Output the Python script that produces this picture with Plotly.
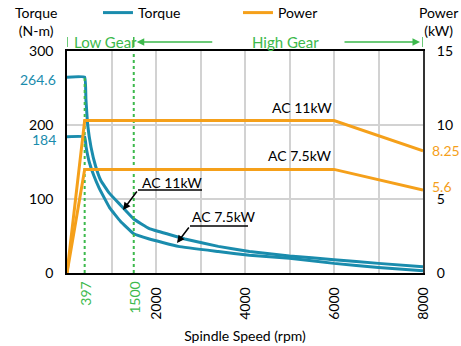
import plotly.graph_objects as go

# ---------------- data ----------------
rpm_11 = [0, 397, 425, 465, 540, 640, 760, 950, 1200, 1500, 1850, 2300, 2650, 3400, 4100, 5000, 6000, 7000, 8000]
torque_11 = [264.6, 264.6, 235, 200, 170, 145, 125, 108, 92, 73, 60, 52, 46, 36, 29, 23, 18, 13, 8.5]

rpm_75 = [0, 397, 430, 500, 600, 720, 960, 1200, 1500, 1850, 2500, 3400, 4100, 5000, 6000, 7000, 8000]
torque_75 = [184, 184, 170, 150, 132, 115, 88, 70, 53, 46, 36, 29, 24, 20, 13, 7.5, 3]

rpm_pw = [0, 397, 6000, 8000]
power_11 = [0, 10.3, 10.3, 8.25]
power_75 = [0, 7.0, 7.0, 5.6]

gear_change = [397, 1500]
x_ticks = [1000, 2000, 3000, 4000, 5000, 6000, 7000, 8000]
x_tick_text = ["", "2000", "", "4000", "", "6000", "", "8000"]
torque_marks = [264.6, 184]
power_marks = [8.25, 5.6]

TEAL = "#1a8cad"
ORANGE = "#f5a01a"
GREEN = "#3db94c"
FONT = "Lato"

fig = go.Figure()

fig.add_trace(go.Scatter(x=rpm_11, y=torque_11, mode="lines", name="Torque",
                         line=dict(color=TEAL, width=3, shape="spline", smoothing=0.3),
                         showlegend=True))
fig.add_trace(go.Scatter(x=rpm_75, y=torque_75, mode="lines", name="Torque",
                         line=dict(color=TEAL, width=3, shape="spline", smoothing=0.3),
                         showlegend=False))
fig.add_trace(go.Scatter(x=rpm_pw, y=power_11, mode="lines", name="Power", yaxis="y2",
                         line=dict(color=ORANGE, width=3), showlegend=True))
fig.add_trace(go.Scatter(x=rpm_pw, y=power_75, mode="lines", name="Power", yaxis="y2",
                         line=dict(color=ORANGE, width=3), showlegend=False))

# gear change dotted lines
fig.add_trace(go.Scatter(x=[gear_change[0], gear_change[0]], y=[0, torque_marks[0]], mode="lines",
                         line=dict(color=GREEN, width=2, dash="dot"), showlegend=False))
fig.add_trace(go.Scatter(x=[gear_change[1], gear_change[1]], y=[0, 300], mode="lines",
                         line=dict(color=GREEN, width=2, dash="dot"), showlegend=False))

annotations = []
shapes = []


def px_to_paper_x(px):
    return (px - 67) / 356.0


def px_to_paper_y(py):
    return (273 - py) / 222.0


def rx(px):
    return (px - 67) / 0.0445


def ry(py):
    return (273 - py) / 0.74


# x labels for gear change speeds
for v in gear_change:
    annotations.append(dict(x=v, y=0, xref="x", yref="y", yshift=-7, text=str(v),
                            textangle=-90, showarrow=False, xanchor="center", yanchor="top",
                            font=dict(family=FONT, size=14, color=GREEN)))

# torque marks on left
for v, sh in zip(torque_marks, [-2, -3]):
    annotations.append(dict(x=0, y=v, xref="paper", yref="y", xshift=-9, yshift=sh, text=str(v),
                            showarrow=False, xanchor="right", yanchor="middle",
                            font=dict(family=FONT, size=14, color=TEAL)))
# power marks on right
for v, sh in zip(power_marks, [0, 4]):
    annotations.append(dict(x=1, y=v, xref="paper", yref="y2", xshift=7, yshift=sh, text=str(v),
                            showarrow=False, xanchor="left", yanchor="middle",
                            font=dict(family=FONT, size=14, color=ORANGE)))

# axis titles
annotations.append(dict(x=px_to_paper_x(36), y=px_to_paper_y(21), xref="paper", yref="paper",
                        text="Torque<br>(N-m)", showarrow=False, xanchor="center", yanchor="middle",
                        font=dict(family=FONT, size=14, color="black")))
annotations.append(dict(x=px_to_paper_x(438), y=px_to_paper_y(21), xref="paper", yref="paper",
                        text="Power<br>(kW)", showarrow=False, xanchor="center", yanchor="middle",
                        font=dict(family=FONT, size=14, color="black")))

# gear range bars
ygear = px_to_paper_y(42)
for xv in [0, 1500, 8000]:
    shapes.append(dict(type="line", xref="x", yref="paper", x0=xv, x1=xv,
                       y0=ygear - 0.022, y1=ygear + 0.022, line=dict(color=GREEN, width=1.5)))
annotations.append(dict(x=px_to_paper_x(105), y=ygear, xref="paper", yref="paper", text="Low Gear",
                        showarrow=False, xanchor="center", yanchor="middle",
                        font=dict(family=FONT, size=15, color=GREEN)))
annotations.append(dict(x=px_to_paper_x(285), y=ygear, xref="paper", yref="paper", text="High Gear",
                        showarrow=False, xanchor="center", yanchor="middle",
                        font=dict(family=FONT, size=15, color=GREEN)))
# arrows
annotations.append(dict(x=1500, y=ygear, xref="x", yref="paper", text="", showarrow=True,
                        ax=80, ay=0, arrowhead=2, arrowsize=1, arrowwidth=1.5, arrowcolor=GREEN,
                        standoff=3))
annotations.append(dict(x=8000, y=ygear, xref="x", yref="paper", text="", showarrow=True,
                        ax=-80, ay=0, arrowhead=2, arrowsize=1, arrowwidth=1.5, arrowcolor=GREEN,
                        standoff=3))

# callouts
annotations.append(dict(x=rx(172), y=ry(182), xref="x", yref="y", text="AC 11kW",
                        showarrow=False, font=dict(family=FONT, size=14, color="black")))
shapes.append(dict(type="line", xref="x", yref="y", x0=rx(138), x1=rx(202), y0=ry(190), y1=ry(190),
                   line=dict(color="black", width=1.5)))
annotations.append(dict(x=rx(123), y=ry(210), xref="x", yref="y", text="", showarrow=True,
                        ax=15, ay=-20, arrowhead=2, arrowsize=1, arrowwidth=1.5, arrowcolor="black"))

annotations.append(dict(x=rx(224), y=ry(216), xref="x", yref="y", text="AC 7.5kW",
                        showarrow=False, font=dict(family=FONT, size=14, color="black")))
shapes.append(dict(type="line", xref="x", yref="y", x0=rx(190), x1=rx(248), y0=ry(226), y1=ry(226),
                   line=dict(color="black", width=1.5)))
annotations.append(dict(x=rx(177), y=ry(243), xref="x", yref="y", text="", showarrow=True,
                        ax=13, ay=-17, arrowhead=2, arrowsize=1, arrowwidth=1.5, arrowcolor="black"))

annotations.append(dict(x=6000, y=10.3, xref="x", yref="y2", text="AC 11kW", yshift=3,
                        showarrow=False, xanchor="right", yanchor="bottom",
                        font=dict(family=FONT, size=14, color="black")))
annotations.append(dict(x=6000, y=7.0, xref="x", yref="y2", text="AC 7.5kW", yshift=3,
                        showarrow=False, xanchor="right", yanchor="bottom",
                        font=dict(family=FONT, size=14, color="black")))

fig.update_layout(
    width=461, height=346,
    margin=dict(l=67, r=38, t=51, b=73, autoexpand=False),
    paper_bgcolor="white", plot_bgcolor="white",
    font=dict(family=FONT, size=14, color="black"),
    xaxis=dict(range=[0, 8000], tickvals=x_ticks, ticktext=x_tick_text, tickangle=-90,
               showgrid=True, gridcolor="#d2d2d2", gridwidth=1.5,
               ticks="outside", ticklen=7, tickcolor="rgba(0,0,0,0)",
               showline=True, linecolor="black", linewidth=1.5, mirror=True,
               zeroline=False, automargin=False,
               title=dict(text="Spindle Speed (rpm)", standoff=12, font=dict(size=14))),
    yaxis=dict(range=[0, 300], tickvals=[0, 100, 200, 300], showgrid=True,
               gridcolor="#d2d2d2", gridwidth=1.5, zeroline=False, automargin=False,
               ticks="outside", ticklen=9, tickcolor="rgba(0,0,0,0)",
               showline=True, linecolor="black", linewidth=1.5, mirror=True),
    yaxis2=dict(range=[0, 15], tickvals=[0, 5, 10, 15], overlaying="y", side="right",
                showgrid=False, zeroline=False, automargin=False,
                ticks="outside", ticklen=9, tickcolor="rgba(0,0,0,0)",
                showline=True, linecolor="#333", linewidth=2),
    legend=dict(orientation="h", x=0.087, y=px_to_paper_y(13), xanchor="left", yanchor="middle",
                entrywidth=95, entrywidthmode="pixels",
                font=dict(family=FONT, size=14), bgcolor="rgba(0,0,0,0)"),
    showlegend=True,
    annotations=annotations, shapes=shapes,
)

fig.write_html("out.html", config={"displayModeBar": False},
               post_script="document.body.style.margin='0';")
